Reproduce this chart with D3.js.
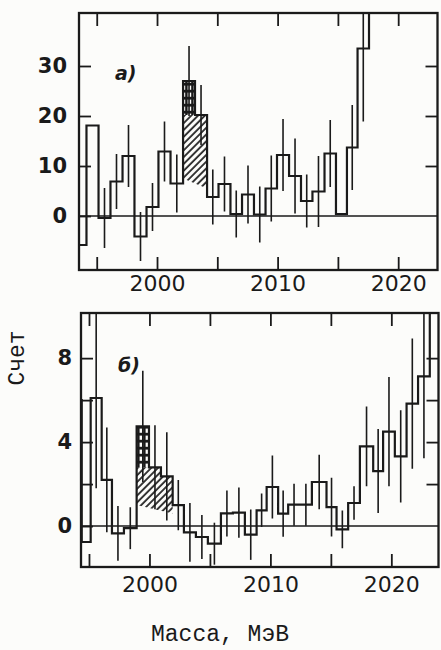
<!DOCTYPE html>
<html>
<head>
<meta charset="utf-8">
<script src="https://cdn.jsdelivr.net/npm/d3@7"></script>
<style>
  html, body { margin: 0; padding: 0; background: #fcfcfa; overflow: hidden; }
  svg { display: block; }
  .tick text { font-family: "DejaVu Sans", sans-serif; fill: #1a1a1a; }
  .tick line { stroke: #1a1a1a; stroke-width: 1.8; }
</style>
</head>
<body>
<div id="chart"></div>
<script>
// panel a) : bin lower edges (MeV), counts, errors
const edgesA = [1993.16, 1994.15, 1995.15, 1996.14, 1997.14, 1998.13, 1999.13, 2000.12, 2001.12,
  2002.16, 2003.15, 2004.15, 2005.10, 2006.09, 2007.05, 2008.04, 2009.00, 2009.95, 2010.95,
  2011.94, 2012.89, 2013.89, 2014.84, 2015.75, 2016.63, 2017.58, 2018.57];
const countsA = [-5.8, 18.1, -0.4, 6.9, 12, -4.1, 1.8, 12.9, 6.5, 27, 20.2, 3.8, 6.4, 0.4, 4.3,
  0.3, 5.5, 12.2, 8.0, 3.0, 4.9, 12.5, 0.4, 13.7, 33.5, 50];
const errA = [0, 0, 6.0, 5.5, 6.2, 4.9, 4.8, 6.0, 5.8, 7, 6, 5.5, 5.5, 4.7, 5.8,
  5.6, 6.6, 7.2, 7.5, 5.3, 7.1, 6.7, 0, 8.5, 14.6, 0];
// background under the peak (a)
const bgMassA = [2002.16, 2004.15];
const bgCountA = [7.5, 5.5];
const hatchBinsA = [9, 10];
const checkBinA = 9;

// panel б)
const edgesB = [1993.93, 1994.40, 1995.14, 1996.05, 1996.90, 1997.89, 1998.94, 1999.96, 2000.95,
  2001.92, 2002.85, 2003.84, 2004.83, 2005.91, 2006.90, 2007.89, 2008.86, 2009.69, 2010.64,
  2011.47, 2012.44, 2013.43, 2014.64, 2015.47, 2016.43, 2017.40, 2018.50, 2019.32, 2020.29,
  2021.26, 2022.21, 2023.18, 2024.17];
const countsB = [6.0, -0.76, 6.1, 2.2, -0.35, -0.1, 4.75, 2.8, 2.37, 1.0, -0.3, -0.52, -0.84,
  0.6, 0.64, -0.41, 0.75, 1.86, 0.59, 1.02, 1.02, 2.1, 0.9, -0.16, 1.1, 3.8, 2.62, 4.5, 3.32,
  5.83, 7.13, 12];
const errB = [0, 0, 4.3, 2.5, 1.3, 1.0, 2.65, 2.0, 2.1, 1.2, 1.4, 1.05, 1.0, 1.1, 1.2, 1.2,
  0.8, 1.5, 1.1, 1.0, 1.0, 1.3, 1.4, 0.9, 0.8, 1.9, 2.0, 2.6, 2.2, 3.1, 3.9, 0];
const bgMassB = [1998.94, 2001.92];
const bgCountB = [1.0, 0.6];
const hatchBinsB = [6, 7, 8];
const checkBinB = 6;

const massTicks = [1995, 2000, 2005, 2010, 2015, 2020];
const massLabels = [2000, 2010, 2020];

const W = 441, H = 650;
const ink = "#1a1a1a";

const svg = d3.select("#chart").append("svg")
  .attr("width", W).attr("height", H);

// fill patterns
const defs = svg.append("defs");
const hatch = defs.append("pattern")
  .attr("id", "hatch")
  .attr("patternUnits", "userSpaceOnUse")
  .attr("width", 4.8).attr("height", 4.8)
  .attr("patternTransform", "rotate(45)");
hatch.append("line")
  .attr("x1", 1).attr("y1", 0).attr("x2", 1).attr("y2", 4.8)
  .attr("stroke", ink).attr("stroke-width", 1.7);
const check = defs.append("pattern")
  .attr("id", "check")
  .attr("patternUnits", "userSpaceOnUse")
  .attr("width", 6).attr("height", 7);
check.append("rect").attr("width", 6).attr("height", 7).attr("fill", ink);
check.append("rect").attr("x", 1.6).attr("y", 1.6).attr("width", 3.6).attr("height", 4.2).attr("fill", "#fcfcfa");

function panel(cfg) {
  const x = d3.scaleLinear().domain(cfg.xDomain).range([cfg.left, cfg.right]);
  const y = d3.scaleLinear().domain(cfg.yDomain).range([cfg.bottom, cfg.top]);
  const g = svg.append("g");

  defs.append("clipPath").attr("id", cfg.id + "-clip")
    .append("rect")
    .attr("x", cfg.left).attr("y", cfg.top)
    .attr("width", cfg.right - cfg.left).attr("height", cfg.bottom - cfg.top);

  const plot = g.append("g").attr("clip-path", "url(#" + cfg.id + "-clip)");

  // zero line
  plot.append("line")
    .attr("x1", cfg.left).attr("x2", cfg.right)
    .attr("y1", y(0)).attr("y2", y(0))
    .attr("stroke", ink).attr("stroke-width", 1.5);

  const ed = cfg.edges, v = cfg.counts;

  // hatched region between background and histogram
  const hb = cfg.hatchBins;
  const bg = d3.scaleLinear().domain(cfg.bgMass).range(cfg.bgCount);
  const poly = [];
  poly.push([ed[hb[0]], bg(ed[hb[0]])]);
  poly.push([ed[hb[hb.length - 1] + 1], bg(ed[hb[hb.length - 1] + 1])]);
  for (let j = hb.length - 1; j >= 0; j--) {
    const i = hb[j];
    const top = i === cfg.checkBin ? v[i + 1] : v[i];
    poly.push([ed[i + 1], top]);
    poly.push([ed[i], top]);
  }
  plot.append("path")
    .attr("d", d3.line().x(d => x(d[0])).y(d => y(d[1]))(poly) + "Z")
    .attr("fill", "url(#hatch)");

  // checkered part of the peak bin
  const c = cfg.checkBin;
  plot.append("rect")
    .attr("x", x(ed[c])).attr("width", x(ed[c + 1]) - x(ed[c]))
    .attr("y", y(v[c])).attr("height", y(v[c + 1]) - y(v[c]))
    .attr("fill", "url(#check)");

  // histogram steps
  const pts = v.map((d, i) => [ed[i], d]);
  pts.push([ed[ed.length - 1], v[v.length - 1]]);
  plot.append("path")
    .attr("d", d3.line().x(d => x(d[0])).y(d => y(d[1])).curve(d3.curveStepAfter)(pts))
    .attr("fill", "none").attr("stroke", ink).attr("stroke-width", 2.2);

  // error bars
  plot.selectAll(".err").data(v.map((d, i) => ({ m: (ed[i] + ed[i + 1]) / 2, c: d, e: cfg.err[i] }))
      .filter(d => d.e > 0))
    .enter().append("line")
    .attr("class", "err")
    .attr("x1", d => x(d.m)).attr("x2", d => x(d.m))
    .attr("y1", d => y(d.c - d.e)).attr("y2", d => y(d.c + d.e))
    .attr("stroke", ink).attr("stroke-width", 1.6);

  // axes, ticks pointing inward
  g.append("g").attr("transform", "translate(0," + cfg.bottom + ")")
    .call(d3.axisBottom(x).tickValues(massTicks).tickSizeInner(-13).tickSizeOuter(0)
      .tickPadding(cfg.xPad).tickFormat(d => massLabels.includes(d) ? d : ""))
    .call(a => a.select(".domain").remove())
    .selectAll("text").attr("font-size", 22);
  g.append("g").attr("transform", "translate(0," + cfg.top + ")")
    .call(d3.axisTop(x).tickValues(massTicks).tickSizeInner(-13).tickSizeOuter(0).tickFormat(""))
    .call(a => a.select(".domain").remove());
  g.append("g").attr("transform", "translate(" + cfg.left + ",0)")
    .call(d3.axisLeft(y).tickValues(cfg.yTicks).tickSizeInner(-12).tickSizeOuter(0)
      .tickPadding(cfg.yPad).tickFormat(d => cfg.yLabels.includes(d) ? d : ""))
    .call(a => a.select(".domain").remove())
    .selectAll("text").attr("font-size", 21).attr("font-weight", "bold");
  g.append("g").attr("transform", "translate(" + cfg.right + ",0)")
    .call(d3.axisRight(y).tickValues(cfg.yTicks.filter(d => d !== 0)).tickSizeInner(-12)
      .tickSizeOuter(0).tickFormat(""))
    .call(a => a.select(".domain").remove());

  // panel letter
  g.append("text")
    .attr("x", cfg.letterX).attr("y", cfg.letterY)
    .attr("font-family", "DejaVu Sans, sans-serif")
    .attr("font-style", "italic").attr("font-weight", "bold")
    .attr("font-size", 19).attr("fill", ink)
    .text(cfg.letter);

  // frame
  g.append("rect")
    .attr("x", cfg.left).attr("y", cfg.top)
    .attr("width", cfg.right - cfg.left).attr("height", cfg.bottom - cfg.top)
    .attr("fill", "none").attr("stroke", ink).attr("stroke-width", 2.3);
}

panel({
  id: "a", left: 79, right: 437.5, top: 13, bottom: 270,
  xDomain: [1993.53, 2023.26], yDomain: [-10.8, 40.6],
  edges: edgesA, counts: countsA, err: errA,
  bgMass: bgMassA, bgCount: bgCountA, hatchBins: hatchBinsA, checkBin: checkBinA,
  yTicks: [0, 10, 20, 30], yLabels: [0, 10, 20, 30], xPad: 5, yPad: 12,
  letter: "a)", letterX: 115, letterY: 80
});

panel({
  id: "b", left: 81, right: 438.5, top: 313, bottom: 567,
  xDomain: [1994.34, 2023.9], yDomain: [-1.95, 10.15],
  edges: edgesB, counts: countsB, err: errB,
  bgMass: bgMassB, bgCount: bgCountB, hatchBins: hatchBinsB, checkBin: checkBinB,
  yTicks: [0, 2, 4, 6, 8], yLabels: [0, 4, 8], xPad: 9, yPad: 9,
  letter: "б)", letterX: 118, letterY: 372
});

// axis titles
svg.append("text")
  .attr("transform", "translate(24,358) rotate(-90)")
  .attr("text-anchor", "middle")
  .attr("font-family", "Liberation Mono, monospace")
  .attr("font-size", 23).attr("fill", ink)
  .text("Счет");

svg.append("text")
  .attr("x", 220).attr("y", 641)
  .attr("text-anchor", "middle")
  .attr("font-family", "Liberation Mono, monospace")
  .attr("font-size", 23).attr("fill", ink)
  .text("Масса, МэВ");
</script>
</body>
</html>
